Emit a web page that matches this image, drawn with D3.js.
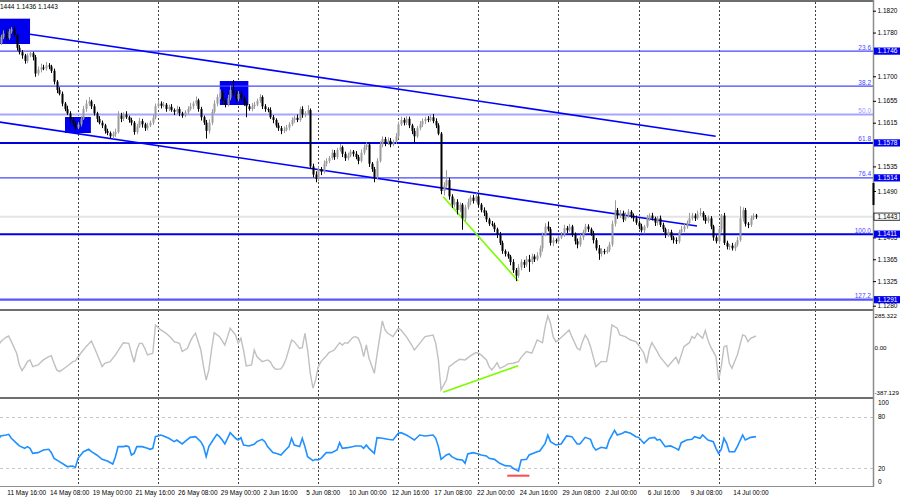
<!DOCTYPE html>
<html><head><meta charset="utf-8">
<script src="https://cdn.jsdelivr.net/npm/d3@7"></script>
<style>body{margin:0;background:#fff;}svg{display:block;}text{font-family:"Liberation Sans",Arial,sans-serif;}</style>
</head><body><svg id="c" width="900" height="500"></svg>
<script>
// ---- DATA (prices as pips above 1.0000, e.g. 1760 = 1.1760) ----
const firstOpen = 1755;
const closes = [1760,1772,1778,1770,1782,1786,1775,1752,1744,1738,
1728,1738,1742,1735,1705,1712,1716,1714,1720,1718,
1710,1690,1675,1668,1650,1640,1632,1620,1614,1606,
1612,1622,1640,1650,1654,1645,1632,1622,1615,1610,
1600,1596,1590,1594,1598,1628,1622,1630,1625,1620,
1615,1598,1608,1618,1612,1605,1610,1615,1624,1645,
1650,1646,1648,1640,1644,1638,1635,1640,1632,1628,
1634,1640,1645,1650,1656,1640,1625,1615,1600,1615,
1635,1650,1662,1670,1655,1648,1660,1675,1668,1658,
1668,1660,1650,1645,1640,1645,1648,1655,1662,1645,
1640,1638,1625,1620,1610,1605,1600,1602,1606,1612,
1620,1624,1620,1640,1630,1632,1638,1535,1520,1512,
1530,1525,1540,1545,1550,1560,1552,1565,1570,1558,
1550,1555,1562,1558,1552,1545,1560,1570,1575,1540,
1530,1515,1545,1575,1585,1578,1582,1575,1580,1590,
1612,1620,1615,1622,1610,1600,1590,1605,1612,1618,
1622,1620,1625,1618,1610,1595,1490,1500,1510,1480,
1465,1470,1455,1465,1440,1460,1470,1478,1472,1480,
1465,1455,1450,1438,1430,1428,1420,1410,1395,1380,
1375,1370,1360,1345,1335,1350,1360,1355,1365,1360,
1370,1365,1372,1385,1410,1425,1420,1395,1400,1398,
1405,1410,1422,1418,1425,1410,1398,1392,1405,1415,
1425,1420,1412,1400,1385,1375,1380,1378,1382,1392,
1430,1455,1445,1450,1438,1445,1452,1445,1440,1432,
1425,1418,1425,1440,1445,1440,1432,1440,1428,1420,
1410,1415,1405,1400,1398,1415,1420,1425,1432,1440,
1445,1440,1448,1450,1442,1435,1440,1425,1405,1398,
1420,1445,1395,1388,1390,1385,1392,1400,1440,1455,
1430,1428,1440,1445,1443];
// upper / lower wick lengths in pips
const upWick = [5,4,6,8,5,4,6,3,5,4, 3,4,5,3,4,6,7,5,6,4, 3,4,3,5,4,3,6,4,5,3, 4,5,6,7,8,3,4,3,5,4,
3,4,3,5,6,8,5,4,6,3, 4,3,5,6,4,3,5,4,6,5, 6,4,5,3,4,5,3,6,4,3, 4,5,6,4,7,3,4,3,5,6,
5,6,5,6,4,5,6,8,18,6, 5,4,3,5,4,6,5,4,5,3, 4,3,5,4,3,5,4,6,5,4, 5,4,6,4,5,4,9,3,5,6,
5,4,6,5,4,6,5,4,6,3, 4,5,4,3,5,4,6,5,4,3, 3,4,5,6,5,4,6,5,4,6, 5,6,4,5,4,3,5,4,6,5,
4,5,4,6,5,4,3,6,18,4, 4,6,5,4,3,5,6,4,5,6, 4,3,5,4,3,5,4,3,5,4, 3,4,3,5,4,6,5,4,6,8,
5,4,6,5,4,6,9,4,5,3, 4,5,6,4,5,3,4,5,6,4, 5,4,3,5,4,6,5,4,6,5, 6,18,4,5,4,6,5,3,4,5,
4,5,3,6,4,5,3,4,5,4, 3,5,4,3,5,4,6,5,4,10, 5,4,6,9,3,4,5,4,3,4, 4,3,5,4,3,5,4,6,22,5,
4,3,5,4,3];
const lowWick = [6,3,4,5,3,4,3,5,4,6, 5,4,3,6,6,4,5,3,4,5, 4,5,6,3,5,4,3,6,4,4, 3,4,2,5,4,5,4,6,3,5,
5,4,3,4,5,3,6,4,3,5, 5,5,4,3,6,5,4,3,4,3, 4,5,3,5,4,3,6,4,5,4, 3,4,3,5,4,5,6,4,14,5,
4,3,5,4,6,5,3,4,5,6, 4,5,4,20,3,4,5,3,4,5, 5,4,3,6,4,5,6,4,3,5, 3,5,4,3,6,5,3,4,5,6,
4,6,3,5,4,3,5,4,3,6, 5,4,3,5,4,6,3,4,5,6, 5,9,4,3,5,6,4,5,3,4, 4,3,5,4,5,6,12,3,4,5,
5,4,3,4,5,3,6,8,5,6, 6,5,8,4,21,5,4,6,5,3, 5,4,6,5,4,3,5,6,4,5, 5,4,6,5,10,4,5,6,4,18,
4,5,3,4,6,3,4,5,6,4, 5,3,4,5,3,4,6,7,4,5, 3,5,4,6,4,11,5,4,3,4, 4,5,6,4,5,3,4,5,6,4,
5,4,6,3,5,4,6,5,4,5, 6,4,5,6,5,4,3,5,4,3, 4,5,3,4,6,5,4,5,6,4, 5,6,4,5,6,4,5,4,3,6,
5,6,4,3,4];
// CCI readings [bar, value]
const cci = [[0,8],[1,47],[3,81],[4,91],[5,47],[7,-43],[8,-134],[9,-178],[10,-147],[11,-108],[12,-95],[13,-147],[15,-134],[17,-95],[19,-69],[20,-64],[21,-121],[22,-173],[23,-186],[24,-173],[26,-142],[28,-108],[29,-103],[31,-43],[33,8],[35,52],[37,-43],[39,-147],[40,-121],[42,-108],[44,-56],[46,8],[47,39],[49,34],[50,-43],[51,-113],[52,-18],[53,34],[54,34],[55,-5],[56,-56],[58,-43],[59,177],[61,138],[63,112],[65,73],[66,47],[68,34],[69,-30],[71,-5],[72,47],[73,86],[74,112],[76,-18],[77,-147],[78,-251],[79,-173],[80,-18],[81,117],[83,86],[85,21],[86,86],[87,151],[89,99],[90,34],[91,73],[92,-18],[93,-142],[95,-134],[96,-18],[97,-69],[99,-108],[101,-95],[102,-108],[103,-147],[104,-168],[106,-165],[107,-134],[108,-82],[110,60],[111,47],[113,-5],[114,1],[115,112],[116,-18],[117,-199],[118,-315],[119,-251],[120,-147],[121,-108],[123,-64],[124,-38],[126,-18],[128,39],[129,21],[130,39],[131,34],[133,81],[134,86],[135,73],[136,21],[137,-69],[138,21],[139,-82],[141,-199],[142,-56],[144,208],[145,138],[146,112],[148,86],[150,151],[151,138],[153,86],[155,21],[156,-18],[158,34],[160,86],[163,99],[164,34],[165,-95],[166,-328],[168,-251],[169,-147],[170,-134],[171,-116],[173,-90],[175,-95],[177,-64],[179,-38],[180,-43],[181,-56],[183,-95],[184,-147],[185,-173],[186,-147],[187,-116],[188,-160],[190,-142],[191,-126],[193,-121],[195,-108],[196,-75],[198,-30],[200,-43],[201,8],[202,60],[204,39],[205,164],[206,247],[207,190],[208,86],[209,47],[210,60],[212,99],[214,138],[215,86],[217,-5],[218,-18],[219,47],[220,99],[221,65],[222,8],[223,-69],[224,-147],[226,-108],[228,-108],[229,8],[230,177],[232,151],[233,99],[235,86],[237,60],[239,47],[240,21],[242,-43],[243,-121],[244,-18],[245,39],[247,-30],[248,-69],[249,-95],[251,-147],[252,-121],[254,-75],[255,-121],[256,-56],[257,8],[259,39],[260,86],[261,73],[262,112],[264,73],[265,133],[266,60],[267,8],[269,-69],[270,-251],[271,-147],[272,8],[273,16],[274,-121],[275,-160],[276,-108],[277,-56],[279,99],[280,91],[281,47],[282,73],[284,91]];
// RSI readings [bar, value]
const rsi = [[0,52.9],[1,57.6],[3,58.7],[4,59.5],[5,54.9],[7,49],[8,46],[10,43.2],[11,45.2],[12,43.2],[13,37.4],[15,38.2],[17,41.3],[19,42.1],[20,38.2],[21,31.6],[23,27.7],[25,23.8],[26,21.9],[28,22.7],[29,21.1],[30,31.6],[32,39.3],[34,42.1],[35,39.3],[37,35.5],[39,30.4],[41,28.5],[43,25],[44,33.5],[45,45.2],[47,45.2],[48,46],[49,45.2],[50,35.5],[51,37.4],[52,45.2],[54,45.2],[56,43.2],[57,42.1],[58,43.2],[59,56.8],[61,58.7],[62,57.6],[64,54.9],[66,51],[67,52.9],[69,48.3],[70,51],[72,56],[74,56.8],[76,51],[77,45.2],[78,33.5],[79,45.2],[81,54.9],[82,59.5],[83,56.8],[84,52.9],[85,48.3],[86,54.9],[87,61.4],[89,54.9],[90,52.9],[91,55.6],[92,47.1],[94,46],[96,47.9],[97,51],[99,53.7],[100,51],[101,45.2],[103,38.2],[105,36.6],[106,35.5],[108,42.1],[109,45.2],[110,54.9],[111,47.1],[113,45.2],[114,54.9],[115,45.2],[116,33.5],[118,28.9],[119,30.4],[120,29.7],[121,31.6],[123,38.2],[125,38.2],[127,41.3],[128,49.8],[129,43.2],[131,44],[134,46],[136,46],[137,43.2],[138,47.1],[139,43.2],[141,37.4],[142,55.6],[144,54.9],[146,53.7],[148,52.9],[150,60.7],[151,61.4],[153,58.7],[154,56.8],[156,52.9],[158,58.7],[160,57.6],[163,58.7],[164,54.9],[165,45.2],[166,30.4],[168,35.5],[169,36.6],[170,33.5],[172,30.4],[174,29.7],[175,25.8],[176,36.6],[178,38.2],[180,36.6],[181,35.5],[183,34.3],[184,31.6],[186,30.4],[188,25.8],[190,23.1],[192,22.7],[193,20],[195,16.9],[196,29.7],[198,30.4],[199,35.5],[202,39.3],[203,40.1],[205,49],[206,58.7],[207,51],[209,47.1],[211,48.3],[213,57.6],[215,56.8],[217,48.3],[218,48.3],[220,56],[222,53.7],[223,45.2],[224,41.3],[226,44.4],[228,43.2],[229,52.9],[231,64],[232,58.7],[234,60.7],[235,62.6],[237,60.7],[239,56.8],[240,56],[242,49],[244,54.9],[246,56],[247,52.9],[248,53.7],[250,45.2],[252,46],[254,43.2],[255,41.3],[256,49.8],[258,52.9],[260,53.7],[261,56.8],[263,54.9],[264,58.7],[266,52.9],[268,51],[269,43.2],[270,37.4],[271,42.1],[272,54.9],[273,49],[274,39.3],[276,39.3],[277,45.2],[279,58.7],[280,52.9],[282,56],[284,56.8]];
const fibLevels = ["23.6","38.2","50.0","61.8","76.4","100.0","127.2"];
const fibPrices = [1.1746,1.1682,1.1630,1.1578,1.1514,1.1411,1.1291];
const fibTagged = [true,false,false,true,true,true,true];
const bidPrice = 1.1443;
const priceTicks = [1.1820,1.1780,1.1700,1.1655,1.1615,1.1535,1.1490,1.1405,1.1365,1.1325,1.1280];
const cciTicks = [285.322,0,-387.129];
const cciTickText = ["285.322","0.00","-387.129"];
const rsiTicks = [100,80,20,0];
const dateLabels = ["11 May 16:00","14 May 08:00","19 May 00:00","21 May 16:00","26 May 08:00","29 May 00:00","2 Jun 16:00","5 Jun 08:00","10 Jun 00:00","12 Jun 16:00","17 Jun 08:00","22 Jun 00:00","24 Jun 16:00","29 Jun 08:00","2 Jul 00:00","6 Jul 16:00","9 Jul 08:00","14 Jul 00:00"];
const gridBars = [30,60,90,120,150,180,210,240,270,306];
// drawn objects [bar, price/value]
const channelUpper = [[12.0,1.17768],[268.9,1.15901]];
const channelLower = [[0,1.16165],[261.9,1.14259]];
const boxes = [[-2,12.0,1.18054,1.17590],[25.1,34.8,1.16254,1.15961],[83.1,93.8,1.16913,1.16474]];
const trendGreen = [[166.8,1.14795],[194.9,1.13252]];
const cciGreen = [[166.8,-346.7],[194.9,-139.9]];
const rsiRed = [[190.8,11.4],[199.1,11.4]];
const headerText = "1444 1.1436 1.1443";

// ---- DRAWING ----
const svg = d3.select("#c");
const W = 873;
const xs = d3.scaleLinear().domain([0,284]).range([-2,756]);
const y = d3.scaleLinear().domain([1.1280,1.1820]).range([305.7,10.7]);
const yc = d3.scaleLinear().domain([-387.129,285.322]).range([397.5,311]);
const yr = d3.scaleLinear().domain([0,100]).range([485.5,399.5]);
const P = v => 1 + v/10000;
const FS = "6.5px";

const defs = svg.append("defs");
defs.append("clipPath").attr("id","cm").append("rect").attr("x",0).attr("y",2).attr("width",W).attr("height",307);
defs.append("clipPath").attr("id","cc").append("rect").attr("x",0).attr("y",311).attr("width",W).attr("height",86);
defs.append("clipPath").attr("id","cr").append("rect").attr("x",0).attr("y",399).attr("width",W).attr("height",87);

// vertical dashed grid
svg.append("g").selectAll("line").data(gridBars).join("line")
  .attr("x1",d=>Math.round(xs(d))+0.5).attr("x2",d=>Math.round(xs(d))+0.5)
  .attr("y1",2).attr("y2",486).attr("stroke","#404040").attr("stroke-width",1).attr("stroke-dasharray","2,2");

const gm = svg.append("g").attr("clip-path","url(#cm)");
// rectangles
gm.selectAll("rect.box").data(boxes).join("rect").attr("class","box")
  .attr("x",d=>xs(d[0])).attr("width",d=>xs(d[1])-xs(d[0]))
  .attr("y",d=>y(d[2])).attr("height",d=>y(d[3])-y(d[2])).attr("fill","#0000ee");
// bid line
gm.append("line").attr("x1",0).attr("x2",W).attr("y1",y(bidPrice)).attr("y2",y(bidPrice)).attr("stroke","#e4e4e4").attr("stroke-width",2);
// fib lines
const fibColor = ["#4646ff","#4646ff","#a6a6ff","#0000dd","#4646ff","#0000ee","#5555ff"];
const fibWidth = [1.2,1.2,2,2,1.2,2,2.2];
gm.selectAll("line.fib").data(fibPrices).join("line").attr("class","fib")
  .attr("x1",0).attr("x2",W).attr("y1",d=>y(d)).attr("y2",d=>y(d))
  .attr("stroke",(d,i)=>fibColor[i]).attr("stroke-width",(d,i)=>fibWidth[i]);
gm.selectAll("text.fib").data(fibLevels).join("text").attr("class","fib")
  .attr("x",871).attr("y",(d,i)=>y(fibPrices[i])-1.5).attr("text-anchor","end")
  .attr("font-size",FS).attr("fill",(d,i)=>i===2?"#9a9aff":"#4646ff").text(d=>d);
// channel
const lineP = d3.line().x(d=>xs(d[0])).y(d=>y(d[1]));
[channelUpper,channelLower].forEach(c=>gm.append("path").attr("d",lineP(c)).attr("stroke","#0000ff").attr("stroke-width",1.6).attr("fill","none"));
gm.append("path").attr("d",lineP(trendGreen)).attr("stroke","#7cfc00").attr("stroke-width",1.6).attr("fill","none");

// candles
const bars = closes.map((c,i)=>{
  const o = i===0?firstOpen:closes[i-1];
  return {i, o:P(o), c:P(c), h:P(Math.max(o,c)+upWick[i]), l:P(Math.min(o,c)-lowWick[i])};
});
const cg = gm.append("g");
bars.forEach(b=>{
  const xr = Math.round(xs(b.i));
  const col = b.c>=b.o ? "#9c9c9c" : "#000000";
  cg.append("line").attr("x1",xr+0.5).attr("x2",xr+0.5).attr("y1",y(b.h)).attr("y2",y(b.l)).attr("stroke",col).attr("stroke-width",1);
  const top = y(Math.max(b.o,b.c)), bot = y(Math.min(b.o,b.c));
  cg.append("rect").attr("x",xr-0.5).attr("width",2).attr("y",top).attr("height",Math.max(1,bot-top)).attr("fill",col);
});

// CCI
const gc = svg.append("g").attr("clip-path","url(#cc)");
gc.append("path").attr("d",d3.line().x(d=>xs(d[0])).y(d=>yc(d[1]))(cci)).attr("fill","none").attr("stroke","#c0c0c0").attr("stroke-width",1.4);
gc.append("path").attr("d",d3.line().x(d=>xs(d[0])).y(d=>yc(d[1]))(cciGreen)).attr("fill","none").attr("stroke","#7cfc00").attr("stroke-width",1.6);

// RSI
const gr = svg.append("g").attr("clip-path","url(#cr)");
gr.selectAll("line.lv").data([80,20]).join("line").attr("class","lv").attr("x1",0).attr("x2",W)
  .attr("y1",d=>Math.round(yr(d))+0.5).attr("y2",d=>Math.round(yr(d))+0.5).attr("stroke","#c8c8c8").attr("stroke-dasharray","3,3");
gr.append("path").attr("d",d3.line().x(d=>xs(d[0])).y(d=>yr(d[1]))(rsi)).attr("fill","none").attr("stroke","#1e90ff").attr("stroke-width",1.6);
gr.append("path").attr("d",d3.line().x(d=>xs(d[0])).y(d=>yr(d[1]))(rsiRed)).attr("fill","none").attr("stroke","#ff4a4a").attr("stroke-width",2);

// frames
const frame = svg.append("g").attr("stroke","#6e6e6e");
frame.append("line").attr("x1",0).attr("x2",W).attr("y1",1).attr("y2",1).attr("stroke-width",2);
frame.append("line").attr("x1",0).attr("x2",W).attr("y1",310).attr("y2",310).attr("stroke-width",2);
frame.append("line").attr("x1",0).attr("x2",W).attr("y1",398).attr("y2",398).attr("stroke-width",2);
frame.append("line").attr("x1",0).attr("x2",W).attr("y1",486.5).attr("y2",486.5).attr("stroke-width",1).attr("stroke","#909090");
frame.append("line").attr("x1",W+0.5).attr("x2",W+0.5).attr("y1",0).attr("y2",487).attr("stroke-width",1.5).attr("stroke","#8c8c8c");
svg.append("line").attr("x1",W+0.5).attr("x2",W+0.5).attr("y1",183).attr("y2",205).attr("stroke","#000").attr("stroke-width",2);

// price axis
const ax = svg.append("g").attr("transform",`translate(${W},0)`)
  .call(d3.axisRight(y).tickValues(priceTicks).tickFormat(d3.format(".4f")).tickSize(3).tickPadding(1.5));
ax.select(".domain").remove();
ax.selectAll("text").attr("font-size",FS).attr("fill","#000").attr("font-family","Liberation Sans, Arial, sans-serif");
ax.selectAll("line").attr("stroke","#000");
// tags
const tagG = svg.append("g");
fibPrices.forEach((p,i)=>{
  if(!fibTagged[i]) return;
  tagG.append("rect").attr("x",W+1).attr("y",y(p)-3.6).attr("width",26).attr("height",7.2).attr("fill","#0000ee");
  tagG.append("text").attr("x",W+4.5).attr("y",y(p)+2.3).attr("font-size",FS).attr("fill","#fff").text(d3.format(".4f")(p));
});
tagG.append("rect").attr("x",W+1).attr("y",y(bidPrice)-3.6).attr("width",26).attr("height",7.2).attr("fill","#fff").attr("stroke","#000").attr("stroke-width",0.8);
tagG.append("text").attr("x",W+4.5).attr("y",y(bidPrice)+2.3).attr("font-size",FS).attr("fill","#000").text(d3.format(".4f")(bidPrice));

// CCI / RSI labels
svg.append("g").selectAll("text").data(cciTicks).join("text")
  .attr("x",W+1.5).attr("y",d=>Math.min(392.3,Math.max(315.3,yc(d)))+2.3).attr("font-size","6.2px").text((d,i)=>cciTickText[i]);
svg.append("g").selectAll("text").data(rsiTicks).join("text")
  .attr("x",W+5).attr("y",d=>Math.min(481.7,Math.max(403,yr(d)))+2.3).attr("font-size",FS).text(d=>d);

// date axis
svg.append("g").selectAll("text").data(dateLabels).join("text")
  .attr("x",(d,i)=>xs(3+16*i)+1.3).attr("y",495).attr("font-size",FS).attr("fill","#000").text(d=>d);

// header
svg.append("text").attr("x",0).attr("y",9).attr("font-size",FS).attr("fill","#000").text(headerText);
</script></body></html>
